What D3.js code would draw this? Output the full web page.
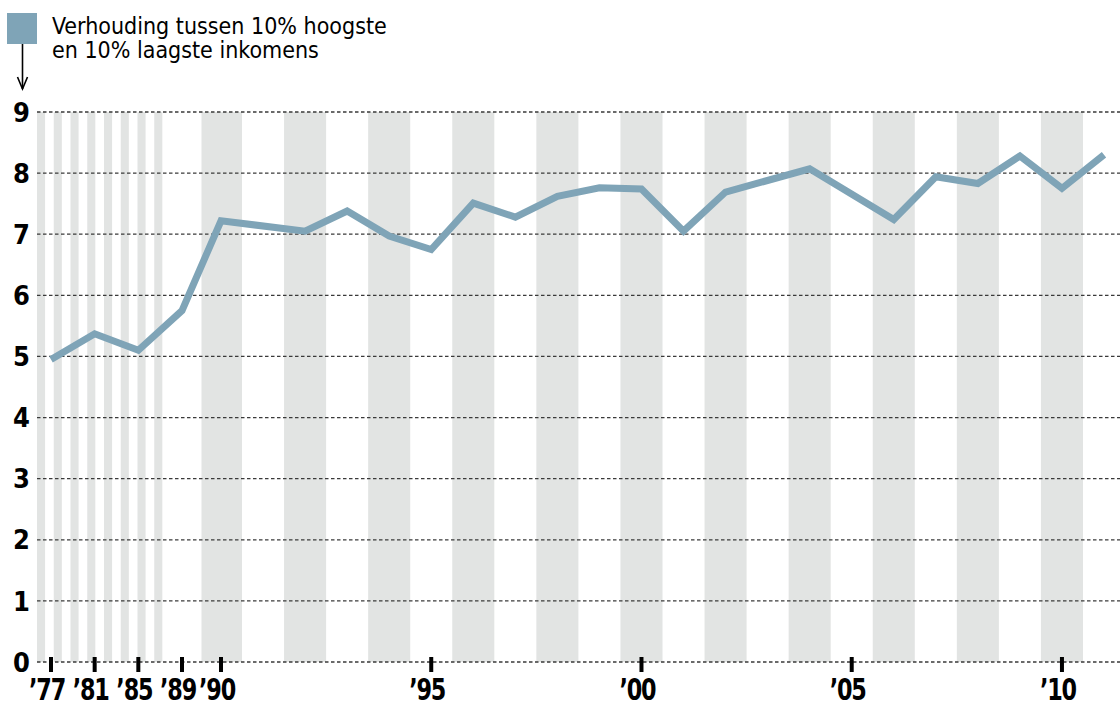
<!DOCTYPE html>
<meta charset="utf-8">
<style>
body { margin: 0; background: #fff; }
svg text { font-family: "DejaVu Sans", sans-serif; font-stretch: condensed; fill: #000; }
.grid line { stroke: #3a3a3a; stroke-width: 1.3px; stroke-dasharray: 3.5,2.5; }
.stripe { fill: #e2e4e3; }
.ylab { font-size: 27px; font-weight: bold; }
.xlab { font-size: 31px; font-weight: bold; letter-spacing: -1.5px; }
.legend text { font-size: 23px; }
</style>
<svg width="1120" height="707"></svg>
<script src="https://cdnjs.cloudflare.com/ajax/libs/d3/7.8.5/d3.min.js"></script>
<script>

// data
var years = [1977, 1981, 1985, 1989, 1990, 1992, 1993, 1994, 1995, 1996, 1997, 1998,
             1999, 2000, 2001, 2002, 2004, 2006, 2007, 2008, 2009, 2010, 2011];
var ratio = [4.95, 5.37, 5.1, 5.75, 7.22, 7.05, 7.38, 6.97, 6.75, 7.51, 7.28, 7.62,
             7.76, 7.74, 7.05, 7.69, 8.07, 7.24, 7.94, 7.83, 8.28, 7.75, 8.3];
var tickYears = [1977, 1981, 1985, 1989, 1990, 1995, 2000, 2005, 2010];
var tickLabels = ["\u201977", "\u201981", "\u201985", "\u201989", "\u201990", "\u201995", "\u201900", "\u201905", "\u201910"];
var yTicks = [0, 1, 2, 3, 4, 5, 6, 7, 8, 9];
var stripeYears = d3.range(1990, 2011, 2);   // shaded even years
var narrowStripes = 8;                         // thin bands over the 1977-1989 part
var legendLines = ["Verhouding tussen 10% hoogste", "en 10% laagste inkomens"];

var svg = d3.select("svg"),
    width = +svg.attr("width"),
    height = +svg.attr("height");

var lineColor = "#7fa4b7";

// the early years are squeezed together, then one slot per year
var x = d3.scaleLinear()
    .domain([1977, 1989, 1990, 2011])
    .range([51, 182, 221, 1104]);

var y = d3.scaleLinear()
    .domain([0, 9])
    .range([662, 112]);

var left = 37;

// stripes
var band = d3.scaleBand()
    .domain(d3.range(narrowStripes * 2))
    .range([left, 171]);

svg.append("g")
  .selectAll("rect")
  .data(d3.range(0, narrowStripes * 2, 2))
  .enter().append("rect")
    .attr("class", "stripe")
    .attr("x", function(d) { return band(d); })
    .attr("width", band.bandwidth() - 0.3)
    .attr("y", y(9))
    .attr("height", y(0) - y(9));

svg.append("g")
  .selectAll("rect")
  .data(stripeYears)
  .enter().append("rect")
    .attr("class", "stripe")
    .attr("x", function(d) { return x(d - 0.5); })
    .attr("width", function(d) { return x(d + 0.5) - x(d - 0.5); })
    .attr("y", y(9))
    .attr("height", y(0) - y(9));

// dashed gridlines
svg.append("g")
    .attr("class", "grid")
  .selectAll("line")
  .data(yTicks)
  .enter().append("line")
    .attr("x1", left)
    .attr("x2", width)
    .attr("y1", function(d) { return y(d); })
    .attr("y2", function(d) { return y(d); });

// y labels
svg.append("g")
  .selectAll("text")
  .data(yTicks)
  .enter().append("text")
    .attr("class", "ylab")
    .attr("x", 30)
    .attr("y", function(d) { return y(d); })
    .attr("dy", "0.36em")
    .attr("text-anchor", "end")
    .text(function(d) { return d; });

// x ticks and labels
svg.append("g")
  .selectAll("rect")
  .data(tickYears)
  .enter().append("rect")
    .attr("x", function(d) { return x(d) - 2; })
    .attr("y", y(0) - 5)
    .attr("width", 4)
    .attr("height", 15)
    .attr("fill", "#000");

// labels squeezed horizontally, like the condensed face of the original
svg.append("g")
  .selectAll("text")
  .data(tickYears)
  .enter().append("text")
    .attr("class", "xlab")
    .attr("transform", function(d) { return "translate(" + (x(d) - 4) + ",700) scale(0.8,1)"; })
    .attr("text-anchor", "middle")
    .text(function(d, i) { return tickLabels[i]; });

// the line
var pts = years.map(function(d, i) { return [d, ratio[i]]; });

var line = d3.line()
    .x(function(d) { return x(d[0]); })
    .y(function(d) { return y(d[1]); });

svg.append("path")
    .datum(pts)
    .attr("d", line)
    .attr("fill", "none")
    .attr("stroke", lineColor)
    .attr("stroke-width", 7)
    .attr("stroke-linejoin", "miter")
    .attr("stroke-miterlimit", 3);

// legend
var legend = svg.append("g").attr("class", "legend");

legend.append("rect")
    .attr("x", 7)
    .attr("y", 13)
    .attr("width", 30)
    .attr("height", 31)
    .attr("fill", lineColor);

legend.append("line")
    .attr("x1", 22.5).attr("x2", 22.5)
    .attr("y1", 44).attr("y2", 89)
    .attr("stroke", "#000")
    .attr("stroke-width", 1.6);

legend.append("path")
    .attr("d", "M17.5,77 L22.5,89 L27.5,77")
    .attr("fill", "none")
    .attr("stroke", "#000")
    .attr("stroke-width", 1.6);

legend.selectAll("text")
  .data(legendLines)
  .enter().append("text")
    .attr("x", 52)
    .attr("y", function(d, i) { return 34 + i * 24; })
    .text(function(d) { return d; });

</script>
